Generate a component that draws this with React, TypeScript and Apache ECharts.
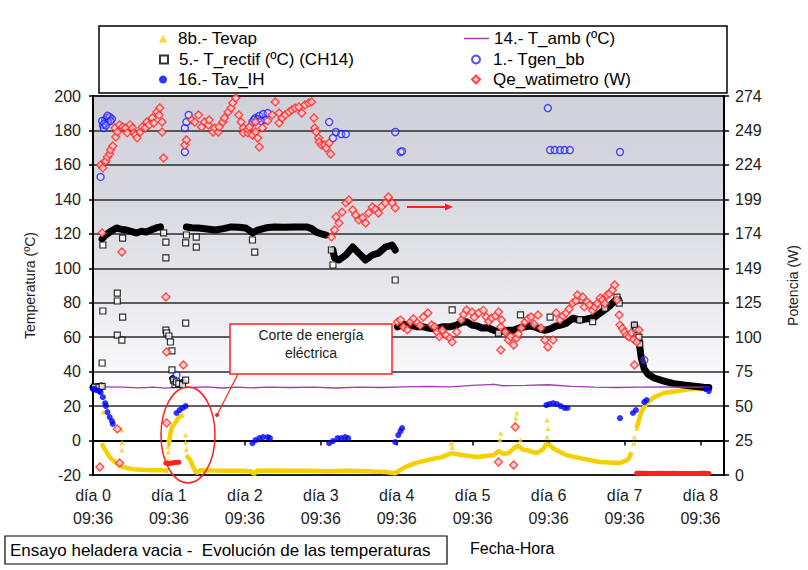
import React, { useEffect, useRef } from 'react';
import * as echarts from 'echarts';

const FONT = '"Liberation Sans", Arial, sans-serif';

// x axis: days since start (tick labels)
const dayTicks = [0, 1, 2, 3, 4, 5, 6, 7, 8];
const tickTime = '09:36';

const S_TEVAP = '8b.- Tevap';
const S_RECT = '5.- T_rectif (ºC) (CH14)';
const S_TAV = '16.- Tav_IH';
const S_TAMB = '14.- T_amb (ºC)';
const S_TGEN = '1.- Tgen_bb';
const S_QE = 'Qe_watimetro (W)';

// 8b.- Tevap : isolated points
const tevapPts = [
  [0.13, 16.5], [0.38, 6.1], [0.38, -1.2], [0.38, -5.5], [0.99, -11.3], [0.99, -6.7], [0.99, -3.5], [0.99, 0.5],
  [1.0, -1.5], [1.22, 3.2], [1.22, -1.0], [1.23, -5.0], [4.72, -1.5], [4.73, -4.0], [5.37, 4.3], [5.36, 0.5],
  [5.56, 10.1], [5.58, 16], [5.57, 13], [5.63, 0.3], [5.98, 2], [5.98, 11.9], [5.99, 7], [7.12, -1.5], [7.13, 2], [7.16, 7.2],
];
// 8b.- Tevap : dense runs
const tevapBand = [
  [[0.12, -1.5], [0.13, -3.2], [0.18, -6.7], [0.22, -9.6], [0.29, -12.5], [0.39, -15.4], [0.52, -16.6], [0.65, -17], [0.78, -17.2], [0.91, -17.3], [0.99, -17.5]],
  [[1.0, -1.5], [1.02, 4.3], [1.04, 7.8], [1.09, 10.7], [1.13, 13.6], [1.19, 14.8]],
  [[1.23, -8.4], [1.28, -11.3], [1.32, -15.4], [1.36, -18.9], [1.41, -17.2], [1.55, -17.4], [1.75, -17.6], [1.95, -17.5], [2.08, -17.8], [2.12, -19.5], [2.16, -17.6],
   [2.35, -17.4], [2.6, -17.6], [2.85, -17.5], [3.1, -17.8], [3.35, -17.6], [3.6, -17.8], [3.85, -18.2], [3.98, -19], [4.05, -17], [4.11, -15.4], [4.24, -13.1],
   [4.41, -11.3], [4.59, -9.6], [4.72, -7.3], [4.85, -8.4], [5.06, -9.6], [5.28, -8.4], [5.34, -6], [5.4, -7.6], [5.47, -7.3], [5.54, -4.5], [5.6, -3], [5.66, -5.2],
   [5.71, -5.5], [5.84, -7.3], [5.93, -5], [5.97, -2], [6.01, -2.5], [6.06, -4.5], [6.1, -5.5], [6.23, -8.4], [6.41, -10.2], [6.67, -12.5], [6.93, -13.1], [7.03, -11.5],
   [7.06, -10.2], [7.09, -6.7]],
  [[7.16, 7.2], [7.19, 11.9], [7.22, 16.5], [7.29, 21.7], [7.39, 25.2], [7.52, 27.6], [7.7, 28.7], [7.87, 29.9], [8.04, 29.9], [8.11, 30]],
];

// 5.- T_rectif : isolated points
const trectifPts = [
  [0.02, 31], [0.08, 31], [0.12, 31.5], [0.12, 45], [0.13, 75.2], [0.13, 113.5], [0.32, 85.6], [0.32, 81], [0.32, 61.2], [0.38, 58.3],
  [0.39, 71.7], [0.39, 117.5], [0.93, 120.5], [0.96, 115.2], [0.96, 106], [0.96, 64.1], [0.97, 62.5], [1.0, 60.7], [1.02, 57.2], [1.04, 52],
  [1.04, 41], [1.06, 35.1], [1.08, 32.5], [1.1, 34], [1.13, 33], [1.18, 32.5], [1.22, 35.1], [1.22, 68.2], [1.22, 114.7], [1.23, 119.3],
  [1.36, 118.1], [1.36, 112.3], [2.1, 116.4], [2.13, 109.4], [3.14, 110.6], [3.16, 101.9], [3.98, 93.2], [4.73, 75.8], [5.34, 62.4],
  [5.63, 72.9], [6.02, 71.7], [6.41, 70], [6.58, 69], [6.74, 76.9], [6.9, 83.3], [6.93, 79.8], [7.13, 67], [7.15, 64], [7.16, 61], [7.19, 60], [7.2, 56],
];
// 5.- T_rectif : dense runs
const trectifBand = [
  [[0.0, 30.8], [0.06, 31.2], [0.11, 31.6]],
  [[1.05, 36], [1.08, 33.5], [1.12, 32.6], [1.16, 33], [1.19, 34]],
  [[0.12, 117], [0.16, 119], [0.22, 121], [0.31, 123.4], [0.38, 122.5], [0.44, 122.2], [0.57, 120.5], [0.64, 121.5], [0.7, 121], [0.78, 122.5], [0.83, 123.4], [0.89, 124]],
  [[1.23, 124], [1.3, 123.5], [1.39, 123.4], [1.5, 122.8], [1.61, 122.2], [1.72, 123], [1.82, 124], [1.92, 123.8], [2.01, 123.4], [2.06, 122], [2.1, 120.5], [2.17, 122.2],
   [2.28, 123.5], [2.39, 124], [2.52, 123.8], [2.65, 124], [2.81, 124], [2.88, 123], [2.94, 121], [3.01, 120], [3.07, 119.3]],
  [[3.16, 110.6], [3.18, 106], [3.24, 104.8], [3.33, 107.7], [3.42, 112.3], [3.5, 108.8], [3.59, 104.8], [3.68, 107.7], [3.76, 108.8], [3.85, 112.3], [3.94, 113.5], [3.98, 110.6]],
  [[4.01, 66], [4.09, 67.5], [4.18, 67], [4.27, 66], [4.35, 66], [4.45, 65], [4.53, 65], [4.6, 66], [4.7, 66], [4.79, 67], [4.85, 68.5], [4.92, 69], [4.99, 67], [5.06, 66.5],
   [5.12, 65.3], [5.2, 65.5], [5.28, 64], [5.34, 63], [5.4, 63.5], [5.47, 64], [5.54, 64], [5.62, 65.5], [5.69, 66], [5.76, 66.5], [5.82, 65.9], [5.9, 64.5], [5.95, 64],
   [6.03, 65], [6.1, 66.5], [6.16, 67], [6.23, 68], [6.32, 71], [6.41, 70], [6.49, 70.5], [6.55, 71], [6.61, 71.7], [6.68, 74], [6.74, 76], [6.8, 78], [6.87, 81], [6.92, 82]],
  [[7.13, 67], [7.16, 62], [7.19, 58], [7.22, 48], [7.26, 41.5], [7.31, 38.5], [7.39, 36.3], [7.52, 34.5], [7.65, 33], [7.78, 32.2], [7.92, 31.5], [8.04, 31], [8.11, 30.8]],
];

// 16.- Tav_IH
const tavPts = [
  [0, 29.9], [0.02, 29.9], [0.04, 29.3], [0.08, 28.7], [0.1, 28.1], [0.13, 25.2], [0.16, 21.7], [0.17, 20], [0.19, 16.5], [0.22, 13.6], [0.25, 11.3], [0.26, 9.6],
  [1.1, 16], [1.14, 17.7], [1.18, 18.9], [1.22, 20],
  [2.1, -1.5], [2.14, 0.3], [2.19, 1.4], [2.24, 2], [2.3, 2], [2.33, 1.4],
  [3.11, -1.5], [3.16, -0.3], [3.22, 1.4], [3.27, 1.4], [3.32, 2], [3.36, 1.4],
  [3.98, -0.9], [4.02, 3.2], [4.05, 5.5], [4.07, 7.2],
  [5.97, 20.6], [6.01, 21.2], [6.06, 21.7], [6.11, 21.2], [6.16, 20], [6.21, 18.9], [6.25, 18.9],
  [6.94, 13], [7.11, 16], [7.15, 17.7], [7.26, 22.3], [7.29, 23.5],
  [8.07, 29.9], [8.11, 28.7],
];

// 14.- T_amb
const tambPts = [
  [0.12, 31.2], [0.4, 31], [0.6, 30.6], [0.8, 31], [0.95, 30.4], [1.1, 31], [1.3, 30.8], [1.5, 31.2], [1.7, 30.5], [1.9, 31], [2.1, 30.6],
  [2.3, 31], [2.6, 30.8], [2.9, 31], [3.2, 30.5], [3.5, 31], [3.8, 30.8], [4.1, 31.2], [4.4, 31.4], [4.7, 31.2], [5.0, 32], [5.28, 32.6],
  [5.4, 31.8], [5.7, 32], [6.0, 32.4], [6.3, 31.5], [6.6, 31], [6.9, 30.8], [7.2, 31], [7.5, 31.2], [7.8, 31], [8.11, 31],
];

// 1.- Tgen_bb
const tgenPts = [
  [0.1, 153], [0.13, 183.2], [0.16, 186], [0.18, 187.2], [0.22, 187.8], [0.25, 186.6], [0.14, 181.4], [0.2, 185], [0.12, 185.5],
  [0.15, 184], [0.19, 188.5], [0.23, 185.5], [0.17, 183],
  [1.1, 38], [1.21, 181.4], [1.26, 189], [1.23, 184.9], [1.21, 167.5],
  [2.1, 184.9], [2.14, 187.2], [2.19, 188.4], [2.24, 189.5], [2.3, 190.1], [2.27, 186], [2.17, 186.5], [2.21, 185.5], [2.12, 186.2],
  [3.11, 184.9], [3.16, 175.6], [3.2, 179.1], [3.27, 177.9], [3.33, 177.9],
  [3.98, 179.1], [4.05, 167.5], [4.07, 168],
  [5.99, 193], [6.02, 168.6], [6.08, 168.6], [6.15, 168.6], [6.21, 168.6], [6.28, 168.6],
  [6.94, 167.5], [7.26, 46.7],
];

// Qe_watimetro (W), right axis
const qePts = [
  [0.09, 5.8], [0.1, 224.1], [0.12, 175], [0.13, 222], [0.16, 226.3], [0.17, 227.1], [0.19, 230], [0.22, 232.1], [0.23, 235], [0.26, 237.9],
  [0.3, 244.4], [0.29, 250.9], [0.32, 248], [0.32, 33.3], [0.35, 253.1], [0.35, 8.7], [0.38, 161.2], [0.39, 251.6], [0.43, 250.9], [0.45, 247.3],
  [0.49, 253.1], [0.52, 250.9], [0.54, 247.3], [0.56, 245.8], [0.58, 243.7], [0.62, 248], [0.65, 251.6], [0.69, 250.9], [0.71, 255.2], [0.74, 253.1],
  [0.78, 258.1], [0.8, 254.5], [0.84, 262.4], [0.87, 260.3], [0.88, 265.3], [0.91, 255.2], [0.91, 248], [0.93, 229.2],
  [0.96, 128.7], [0.97, 88.9], [0.97, 37.6], [1.19, 79.5],
  [1.21, 238.6], [1.23, 242.2], [1.3, 256.7], [1.34, 255.2], [1.39, 260.3], [1.43, 251.6], [1.47, 255.2], [1.52, 253.1], [1.53, 256.7], [1.58, 248],
  [1.6, 250.9], [1.65, 248], [1.66, 251.6], [1.71, 255.2], [1.73, 258.1], [1.78, 262.4], [1.82, 265.3], [1.84, 269], [1.88, 272.6], [1.92, 260.3],
  [1.95, 255.2], [1.98, 250.9], [1.98, 247.3], [2.04, 247.3], [2.04, 250], [2.06, 251.6], [2.1, 245.8], [2.14, 248], [2.14, 255.2], [2.17, 243.6],
  [2.19, 237.1], [2.23, 250.9], [2.3, 256], [2.36, 260.3], [2.4, 269.7], [2.45, 254.5], [2.45, 261.7], [2.49, 258.1], [2.53, 260.3], [2.58, 262.4],
  [2.62, 263.9], [2.66, 265.3], [2.71, 266.1], [2.75, 261.7], [2.79, 267.5], [2.84, 269], [2.88, 269.7], [2.91, 258.1], [2.92, 250.9], [2.94, 248],
  [2.97, 243.6], [2.98, 240.8], [3.01, 238.6], [3.05, 238.6], [3.07, 236.4], [3.11, 240], [3.13, 232.1],
  [3.14, 172.1], [3.18, 177.1], [3.2, 186.5], [3.24, 182.2], [3.28, 190], [3.33, 196.7], [3.37, 198.8], [3.42, 191.6], [3.46, 188], [3.5, 184.4],
  [3.55, 186], [3.59, 182.2], [3.63, 189.4], [3.68, 193.8], [3.72, 192], [3.76, 189.4], [3.8, 194], [3.85, 196.7], [3.89, 201], [3.94, 196.7], [3.98, 193],
  [4.01, 110.6], [4.05, 112], [4.09, 107], [4.14, 105], [4.18, 110.6], [4.22, 113], [4.27, 109.9], [4.31, 108], [4.35, 114.2], [4.41, 117.1],
  [4.46, 108.5], [4.5, 107], [4.53, 103.4], [4.56, 100], [4.6, 104.8], [4.65, 101], [4.7, 99], [4.73, 96.2], [4.79, 103.4], [4.85, 112.1],
  [4.88, 116], [4.92, 119.3], [4.99, 117.8], [5.02, 114], [5.08, 117.1], [5.14, 119], [5.18, 114.2], [5.21, 111], [5.25, 113.5], [5.3, 115],
  [5.34, 117.8], [5.37, 107], [5.38, 112.1], [5.43, 103.4], [5.47, 97.6], [5.5, 100], [5.54, 94], [5.58, 99], [5.6, 102], [5.64, 106.3],
  [5.69, 110.6], [5.73, 113], [5.77, 114.2], [5.81, 109], [5.86, 115.7], [5.9, 106.3], [5.95, 97.6], [5.99, 92.5], [6.06, 97.6], [6.1, 117.1],
  [6.15, 112.1], [6.19, 115], [6.23, 117.1], [6.27, 120], [6.32, 124.4], [6.36, 126], [6.38, 130.1], [6.45, 128.7], [6.47, 121.5], [6.51, 125],
  [6.54, 122.9], [6.58, 119], [6.61, 121.5], [6.64, 124], [6.68, 128], [6.71, 126.5], [6.74, 124], [6.77, 130.1], [6.8, 131], [6.84, 133.8],
  [6.87, 137.4], [6.9, 126.5], [6.93, 115.7], [6.94, 108.5], [6.97, 106], [7.0, 103.4], [7.03, 101], [7.06, 99.8], [7.09, 102.7], [7.12, 98],
  [7.16, 96.2], [7.19, 104.8],
  [5.37, 90.4], [5.34, 9.4], [5.54, 7.2], [5.56, 34.7], [7.13, 79.5],
];
// Qe_watimetro (W): dense runs near zero (power cut, end of test)
const qeFloor = [
  [[0.96, 8.7], [1.0, 8.2], [1.04, 8.7], [1.08, 9], [1.13, 9.2]],
  [[7.16, 1.2], [7.24, 1.2], [7.32, 1.0], [7.4, 1.1], [7.48, 1.3], [7.56, 1.0], [7.64, 1.2], [7.72, 1.1], [7.8, 1.0], [7.88, 1.1], [7.96, 1.0], [8.04, 1.2], [8.11, 1.1]],
];

const RED = '#ff2020';

function buildOption(): any {
  const txt = { fontFamily: FONT, color: '#000' };
  const legendBase = {
    orient: 'horizontal',
    align: 'left',
    selectedMode: false,
    itemHeight: 8,
    itemWidth: 8,
    z: 10,
    padding: 0,
  };
  const series: any[] = [];
  series.push({
    name: S_TEVAP, type: 'scatter', yAxisIndex: 0, symbol: 'triangle', symbolSize: 5,
    itemStyle: { color: '#f5cf00' }, data: tevapPts, z: 2,
  });
  tevapBand.forEach((seg) => series.push({
    name: S_TEVAP, type: 'line', yAxisIndex: 0, symbol: 'none',
    lineStyle: { color: '#f5cf00', width: 4.5 }, data: seg, z: 1,
  }));
  series.push({
    name: S_RECT, type: 'scatter', yAxisIndex: 0, symbol: 'rect', symbolSize: 6,
    itemStyle: { color: '#ffffff', borderColor: '#000', borderWidth: 1.2 }, data: trectifPts, z: 3,
  });
  trectifBand.forEach((seg) => series.push({
    name: S_RECT, type: 'line', yAxisIndex: 0, symbol: 'none',
    lineStyle: { color: '#000', width: 7, join: 'round', cap: 'round' }, data: seg, z: 2,
  }));
  series.push({
    name: S_TAV, type: 'scatter', yAxisIndex: 0, symbol: 'circle', symbolSize: 6,
    itemStyle: { color: '#0000ff' }, data: tavPts, z: 3,
  });
  series.push({
    name: S_TAMB, type: 'line', yAxisIndex: 0, symbol: 'none',
    lineStyle: { color: '#a03cb4', width: 1.3 }, data: tambPts, z: 2,
  });
  series.push({
    name: S_TGEN, type: 'scatter', yAxisIndex: 0, symbol: 'circle', symbolSize: 7,
    itemStyle: { color: 'rgba(255,255,255,0.25)', borderColor: '#2020ff', borderWidth: 1.4 }, data: tgenPts, z: 4,
  });
  series.push({
    name: S_QE, type: 'scatter', yAxisIndex: 1, symbol: 'diamond', symbolSize: 8,
    itemStyle: { color: '#ffc8c8', borderColor: RED, borderWidth: 1.3 }, data: qePts, z: 5,
  });
  qeFloor.forEach((seg) => series.push({
    name: S_QE, type: 'line', yAxisIndex: 1, symbol: 'none',
    lineStyle: { color: RED, width: 5, cap: 'round' }, data: seg, z: 5,
  }));

  const lt = { ...txt, fontSize: 17 };
  return {
    animation: false,
    backgroundColor: '#ffffff',
    textStyle: { fontFamily: FONT },
    grid: {
      left: 93, right: 74, top: 96, bottom: 95, show: true,
      borderColor: '#000', borderWidth: 2,
      backgroundColor: new echarts.graphic.LinearGradient(0, 0, 0, 1, [
        { offset: 0, color: '#d0d0d9' },
        { offset: 0.3, color: '#dadae2' },
        { offset: 0.55, color: '#eaeaef' },
        { offset: 0.75, color: '#fbfbfd' },
        { offset: 0.8, color: '#ffffff' },
        { offset: 1, color: '#ffffff' },
      ]),
    },
    legend: [
      { ...legendBase, data: [S_TEVAP], left: 159, top: 30, textStyle: { ...lt, padding: [0, 0, 0, 6] } },
      { ...legendBase, data: [S_RECT], left: 159, top: 51, textStyle: { ...lt, padding: [0, 0, 0, 6] } },
      { ...legendBase, data: [S_TAV], left: 159, top: 71, textStyle: { ...lt, padding: [0, 0, 0, 6] } },
      { ...legendBase, data: [S_TAMB], left: 464, top: 30, itemWidth: 25, itemHeight: 1.5, icon: 'rect',
        itemStyle: { color: '#a03cb4' }, textStyle: { ...lt } },
      { ...legendBase, data: [S_TGEN], left: 471, top: 51, textStyle: { ...lt, padding: [0, 0, 0, 8] } },
      { ...legendBase, data: [S_QE], left: 471, top: 71, textStyle: { ...lt, padding: [0, 0, 0, 8] } },
    ],
    xAxis: {
      type: 'value', min: 0, max: 8.31, interval: 1,
      axisLine: { lineStyle: { color: '#000', width: 2 } },
      axisTick: { show: true, inside: false, length: 5, lineStyle: { color: '#000', width: 1.5 } },
      splitLine: { show: false },
      axisLabel: {
        ...txt, fontSize: 16, color: '#222', lineHeight: 23, margin: 9, showMaxLabel: false,
        formatter: (v: number) => {
          const r = Math.round(v);
          return Math.abs(v - r) < 1e-6 && dayTicks.includes(r) ? `día ${r}\n${tickTime}` : '';
        },
      },
    },
    yAxis: [
      {
        type: 'value', min: -20, max: 200, interval: 20, position: 'left',
        name: 'Temperatura (ºC)', nameLocation: 'middle', nameGap: 56, nameRotate: 90,
        nameTextStyle: { ...txt, fontSize: 14, color: '#222' },
        axisLine: { show: true, lineStyle: { color: '#000', width: 2 } },
        axisTick: { show: true, inside: false, length: 4, lineStyle: { color: '#000', width: 1.5 } },
        axisLabel: { ...txt, fontSize: 16, color: '#222', margin: 12 },
        splitLine: { show: true, lineStyle: { color: '#2d2d2d', width: 1.6 } },
      },
      {
        type: 'value', min: 0, max: 274, interval: 274 / 11, position: 'right',
        name: 'Potencia (W)', nameLocation: 'middle', nameGap: 62, nameRotate: 90,
        nameTextStyle: { ...txt, fontSize: 14, color: '#222' },
        axisLine: { show: true, lineStyle: { color: '#000', width: 2 } },
        axisTick: { show: true, inside: false, length: 5, lineStyle: { color: '#000', width: 1.5 } },
        axisLabel: { ...txt, fontSize: 16, color: '#222', margin: 11, formatter: (v: number) => String(Math.round(v)) },
        splitLine: { show: false },
      },
    ],
    series,
    graphic: [
      { type: 'rect', z: 3, shape: { x: 99, y: 26, width: 628, height: 67 }, style: { fill: '#ffffff', stroke: '#000', lineWidth: 1.5 } },
      { type: 'rect', z: 3, shape: { x: 5, y: 536, width: 442, height: 28 }, style: { fill: '#ffffff', stroke: '#000', lineWidth: 1.2 } },
      { type: 'text', z: 4, x: 10, y: 550, style: { text: 'Ensayo heladera vacia -  Evolución de las temperaturas', fontSize: 17, fontFamily: FONT, fill: '#000', verticalAlign: 'middle' } },
      { type: 'text', z: 4, x: 470, y: 548, style: { text: 'Fecha-Hora', fontSize: 16, fontFamily: FONT, fill: '#000', verticalAlign: 'middle' } },
      { type: 'ellipse', z: 20, shape: { cx: 188, cy: 435, rx: 27, ry: 48 }, style: { fill: 'transparent', stroke: RED, lineWidth: 1.5 } },
      { type: 'line', z: 20, shape: { x1: 238, y1: 374, x2: 217, y2: 415 }, style: { stroke: RED, lineWidth: 1.2 } },
      { type: 'circle', z: 20, shape: { cx: 217, cy: 415, r: 2 }, style: { fill: RED } },
      { type: 'rect', z: 20, shape: { x: 230, y: 324, width: 162, height: 50 }, style: { fill: '#ffffff', stroke: RED, lineWidth: 1.5 } },
      { type: 'text', z: 21, x: 311, y: 344, style: { text: 'Corte de energía\neléctrica', fontSize: 14, lineHeight: 18, fontFamily: FONT, fill: '#222', align: 'center', verticalAlign: 'middle' } },
      { type: 'line', z: 20, shape: { x1: 407, y1: 207, x2: 446, y2: 207 }, style: { stroke: RED, lineWidth: 2 } },
      { type: 'polygon', z: 20, shape: { points: [[445, 203.5], [453, 207], [445, 210.5]] }, style: { fill: RED } },
    ],
  };
}

export default function App() {
  const ref = useRef<HTMLDivElement>(null);
  useEffect(() => {
    if (!ref.current) return;
    const chart = echarts.init(ref.current, undefined, { renderer: 'svg' });
    chart.setOption(buildOption());
    return () => chart.dispose();
  }, []);
  return <div ref={ref} style={{ position: 'absolute', left: 0, top: 0, width: 808, height: 570, background: '#fff' }} />;
}
